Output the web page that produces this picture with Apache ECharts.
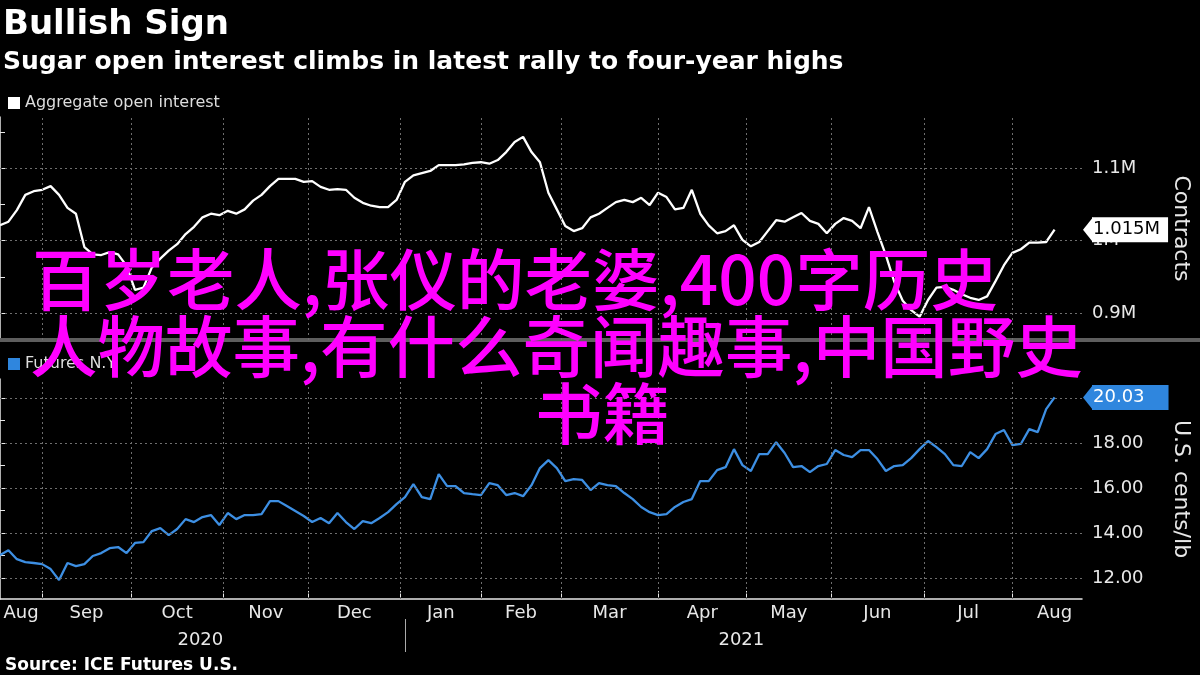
<!DOCTYPE html>
<html>
<head>
<meta charset="utf-8">
<script src="https://cdn.jsdelivr.net/npm/echarts@6/dist/echarts.min.js"></script>
<style>html,body{margin:0;padding:0;background:#000;}#c{width:1200px;height:675px;}</style>
</head>
<body>
<div id="c"></div>
<script>
const titleText = 'Bullish Sign';
const subtitleText = 'Sugar open interest climbs in latest rally to four-year highs';
const sourceText = 'Source: ICE Futures U.S.';
const seriesNames = ['Aggregate open interest', 'Futures N.Y.'];
const overlayLines = ['百岁老人,张仪的老婆,400字历史', '人物故事,有什么奇闻趣事,中国野史', '书籍'];

// x axis: trading days counted from the left edge of the chart (mid-Aug 2020)
const sampleStep = 2; // trading days between samples below
const monthStarts = [10, 31, 53, 73, 95, 114, 133, 156, 177, 197, 219, 240];
const monthLabelAt = [5, 20.5, 42, 63, 84, 104.5, 123.5, 144.5, 166.5, 187, 208, 229.5, 250];
const monthNames = ['Aug', 'Sep', 'Oct', 'Nov', 'Dec', 'Jan', 'Feb', 'Mar', 'Apr', 'May', 'Jun', 'Jul', 'Aug'];
const yearStarts = [96];
const yearLabelAt = [47.5, 175.75];
const yearNames = ['2020', '2021'];
const xEnd = 256.5;

// Aggregate open interest, thousands of contracts (one value every 2 trading days)
const openInterest = [
  1021, 1026, 1042, 1063, 1068, 1070, 1075, 1063, 1045, 1037,
  991, 981, 980, 984, 981, 965, 932, 935, 963, 975,
  986, 995, 1009, 1019, 1032, 1037, 1035, 1041, 1037, 1043,
  1055, 1063, 1075, 1085, 1085, 1085, 1081, 1082, 1074, 1070,
  1071, 1070, 1059, 1052, 1048, 1046, 1046, 1056, 1081, 1090,
  1093, 1096, 1104, 1104, 1104, 1105, 1107, 1108, 1106, 1111,
  1122, 1136, 1143, 1122, 1108, 1066, 1043, 1020, 1013, 1017,
  1032, 1037, 1045, 1053, 1056, 1053, 1059, 1049, 1066, 1060,
  1043, 1045, 1070, 1037, 1021, 1010, 1013, 1021, 1001, 992,
  998, 1013, 1028, 1026, 1032, 1038, 1027, 1023, 1010, 1023,
  1031, 1027, 1017, 1046, 1012, 980, 943, 917, 904, 895,
  918, 935, 936, 932, 926, 921, 918, 923, 944, 966,
  983, 988, 997, 997, 998, 1015
];

// Raw sugar futures N.Y., US cents per pound
const futuresPrice = [
  13.02, 13.24, 12.84, 12.71, 12.67, 12.62, 12.40, 11.91, 12.67, 12.53,
  12.62, 12.98, 13.11, 13.33, 13.38, 13.11, 13.56, 13.60, 14.09, 14.22,
  13.91, 14.18, 14.62, 14.49, 14.71, 14.80, 14.36, 14.89, 14.62, 14.80,
  14.80, 14.84, 15.42, 15.42, 15.20, 14.98, 14.76, 14.49, 14.67, 14.44,
  14.89, 14.49, 14.18, 14.53, 14.44, 14.67, 14.93, 15.29, 15.60, 16.18,
  15.60, 15.51, 16.62, 16.09, 16.09, 15.78, 15.73, 15.69, 16.22, 16.13,
  15.69, 15.78, 15.64, 16.13, 16.89, 17.24, 16.89, 16.31, 16.40, 16.36,
  15.91, 16.22, 16.13, 16.09, 15.78, 15.51, 15.16, 14.93, 14.80, 14.84,
  15.16, 15.38, 15.51, 16.31, 16.31, 16.80, 16.93, 17.73, 17.02, 16.76,
  17.51, 17.51, 18.04, 17.56, 16.93, 16.98, 16.71, 16.98, 17.07, 17.69,
  17.47, 17.38, 17.69, 17.69, 17.29, 16.76, 16.98, 17.02, 17.33, 17.73,
  18.09, 17.82, 17.51, 17.02, 16.98, 17.60, 17.33, 17.73, 18.40, 18.58,
  17.91, 17.96, 18.62, 18.49, 19.51, 20.03
];

const oiRange = [862.8, 1170.4];
const oiTicks = [900, 950, 1000, 1050, 1100, 1150];
const oiLabels = [900, 1000, 1100];
const pxRange = [11.07, 20.848];
const pxTicks = [12, 13, 14, 15, 16, 17, 18, 19, 20];
const pxLabels = [12, 14, 16, 18, 20];

const FONT = 'DejaVu Sans';
const CJK = 'Noto Sans CJK SC';
const AX = '#e8e8e8';
const BLUE = '#2f86de';
const gridStyle = { color: '#6e6e6e', width: 1, type: [2, 3] };

const lastOI = openInterest[openInterest.length - 1];
const lastPx = futuresPrice[futuresPrice.length - 1];

function toXY(arr) { return arr.map((v, i) => [i * sampleStep, v]); }

function gridSeries(xi, yi, yVals) {
  return {
    type: 'line', xAxisIndex: xi, yAxisIndex: yi, data: [], silent: true, z: 1,
    markLine: {
      silent: true, symbol: 'none', animation: false, label: { show: false },
      emphasis: { disabled: true }, lineStyle: gridStyle,
      data: monthStarts.map(t => ({ xAxis: t })).concat(yVals.map(v => ({ yAxis: v })))
    }
  };
}

const labelFont = { color: AX, fontSize: 18, fontFamily: FONT };

const chart = echarts.init(document.getElementById('c'), null, { renderer: 'canvas' });

const overlayFont = '500 67.5px "' + CJK + '"';

const option = {
  backgroundColor: '#000',
  animation: false,
  title: [
    { text: titleText, left: 3, top: 8, padding: 0, textStyle: { color: '#fff', fontSize: 34, fontWeight: 'bold', fontFamily: FONT } },
    { text: subtitleText, left: 3, top: 50, padding: 0, textStyle: { color: '#fff', fontSize: 25, fontWeight: 'bold', fontFamily: FONT } },
    { text: sourceText, left: 5, top: 657, padding: 0, textStyle: { color: '#fff', fontSize: 17, fontWeight: 'bold', fontFamily: FONT } }
  ],
  legend: [
    { data: [seriesNames[0]], left: 8, top: 95, padding: 0, icon: 'rect', itemWidth: 12, itemHeight: 12, selectedMode: false,
      textStyle: { color: '#ddd', fontSize: 16, fontFamily: FONT } },
    { data: [seriesNames[1]], left: 8, top: 356, padding: 0, icon: 'rect', itemWidth: 12, itemHeight: 12, selectedMode: false,
      textStyle: { color: '#ddd', fontSize: 16, fontFamily: FONT } }
  ],
  grid: [
    { left: 0, right: 113, top: 117, height: 223 },
    { left: 0, right: 113, top: 379, height: 220 }
  ],
  xAxis: [
    { type: 'value', gridIndex: 0, min: 0, max: xEnd, axisLine: { show: false }, axisTick: { show: false },
      axisLabel: { show: false }, splitLine: { show: false } },
    { type: 'value', gridIndex: 1, min: 0, max: xEnd,
      axisLine: { show: true, onZero: false, lineStyle: { color: AX, width: 1.5 } },
      axisTick: { show: true, inside: true, length: 8, customValues: monthStarts, lineStyle: { color: AX } },
      axisLabel: Object.assign({ customValues: monthLabelAt, margin: 5,
        formatter: v => monthNames[monthLabelAt.indexOf(v)] }, labelFont),
      splitLine: { show: false } },
    { type: 'value', gridIndex: 1, min: 0, max: xEnd, position: 'bottom', offset: 20,
      axisLine: { show: false },
      axisTick: { show: true, length: 33, customValues: yearStarts, lineStyle: { color: '#aaa' } },
      axisLabel: Object.assign({ customValues: yearLabelAt, margin: 12,
        formatter: v => yearNames[yearLabelAt.indexOf(v)] }, labelFont),
      splitLine: { show: false } }
  ],
  yAxis: [
    { type: 'value', gridIndex: 0, position: 'right', min: oiRange[0], max: oiRange[1],
      axisLine: { show: true, lineStyle: { color: AX, width: 1.5 } },
      axisTick: { show: true, length: 5, customValues: oiTicks, lineStyle: { color: AX } },
      axisLabel: Object.assign({ customValues: oiLabels, margin: 10, formatter: v => (v / 1000) + 'M' }, labelFont),
      splitLine: { show: false },
      name: 'Contracts', nameLocation: 'middle', nameRotate: -90, nameGap: 88,
      nameTextStyle: { color: AX, fontSize: 22, fontFamily: FONT } },
    { type: 'value', gridIndex: 1, position: 'right', min: pxRange[0], max: pxRange[1],
      axisLine: { show: true, lineStyle: { color: AX, width: 1.5 } },
      axisTick: { show: true, length: 5, customValues: pxTicks, lineStyle: { color: AX } },
      axisLabel: Object.assign({ customValues: pxLabels, margin: 10, formatter: v => v.toFixed(2) }, labelFont),
      splitLine: { show: false },
      name: 'U.S. cents/lb', nameLocation: 'middle', nameRotate: -90, nameGap: 88,
      nameTextStyle: { color: AX, fontSize: 22, fontFamily: FONT } },
    { type: 'value', gridIndex: 0, position: 'right', min: oiRange[0], max: oiRange[1], z: 10,
      axisLine: { show: false }, axisTick: { show: false }, splitLine: { show: false },
      axisLabel: { customValues: [lastOI], margin: 10, formatter: v => (v / 1000).toFixed(3) + 'M',
        color: '#000', backgroundColor: '#fff', padding: [3, 8, 2, 1], lineHeight: 20, fontSize: 18, fontFamily: FONT } },
    { type: 'value', gridIndex: 1, position: 'right', min: pxRange[0], max: pxRange[1], z: 10,
      axisLine: { show: false }, axisTick: { show: false }, splitLine: { show: false },
      axisLabel: { customValues: [lastPx], margin: 10, formatter: v => v.toFixed(2),
        color: '#fff', backgroundColor: BLUE, padding: [3, 24, 2, 1], lineHeight: 20, fontSize: 18, fontFamily: FONT } }
  ],
  series: [
    gridSeries(0, 0, oiLabels),
    gridSeries(1, 1, pxLabels),
    { name: seriesNames[0], type: 'line', xAxisIndex: 0, yAxisIndex: 0, data: toXY(openInterest), z: 3,
      showSymbol: false, symbol: 'none', lineStyle: { color: '#fff', width: 2.3 }, itemStyle: { color: '#fff' } },
    { name: seriesNames[1], type: 'line', xAxisIndex: 1, yAxisIndex: 1, data: toXY(futuresPrice), z: 3,
      showSymbol: false, symbol: 'none', lineStyle: { color: '#3d8fe3', width: 2.3 }, itemStyle: { color: BLUE } }
  ],
  graphic: [
    { id: 'sep', type: 'rect', left: 0, top: 338, shape: { width: 1200, height: 4 }, style: { fill: '#5e5e5e' }, z: 5 },
    { id: 'ov1', type: 'text', x: 32, y: 279, z: 100,
      style: { text: overlayLines[0], fill: '#ff00ff', font: overlayFont, textAlign: 'left', textVerticalAlign: 'middle', verticalAlign: 'middle' } },
    { id: 'ov2', type: 'text', x: 30, y: 346, z: 100,
      style: { text: overlayLines[1], fill: '#ff00ff', font: overlayFont, textAlign: 'left', textVerticalAlign: 'middle', verticalAlign: 'middle' } },
    { id: 'ov3', type: 'text', x: 535, y: 413, z: 100,
      style: { text: overlayLines[2], fill: '#ff00ff', font: overlayFont, textAlign: 'left', textVerticalAlign: 'middle', verticalAlign: 'middle' } }
  ]
};

chart.setOption(option);

// pointer arrows on the value tags, placed through the axes' own scales
const xr = chart.convertToPixel({ xAxisIndex: 0 }, xEnd);
const yTop = chart.convertToPixel({ yAxisIndex: 2 }, lastOI);
const yBot = chart.convertToPixel({ yAxisIndex: 3 }, lastPx);
chart.setOption({
  graphic: [
    { id: 'arrTop', type: 'polygon', z: 20, shape: { points: [[xr + 1, yTop], [xr + 11, yTop - 12.5], [xr + 11, yTop + 12.5]] }, style: { fill: '#fff' } },
    { id: 'arrBot', type: 'polygon', z: 20, shape: { points: [[xr + 1, yBot], [xr + 11, yBot - 12.5], [xr + 11, yBot + 12.5]] }, style: { fill: BLUE } }
  ]
});
</script>
</body>
</html>
